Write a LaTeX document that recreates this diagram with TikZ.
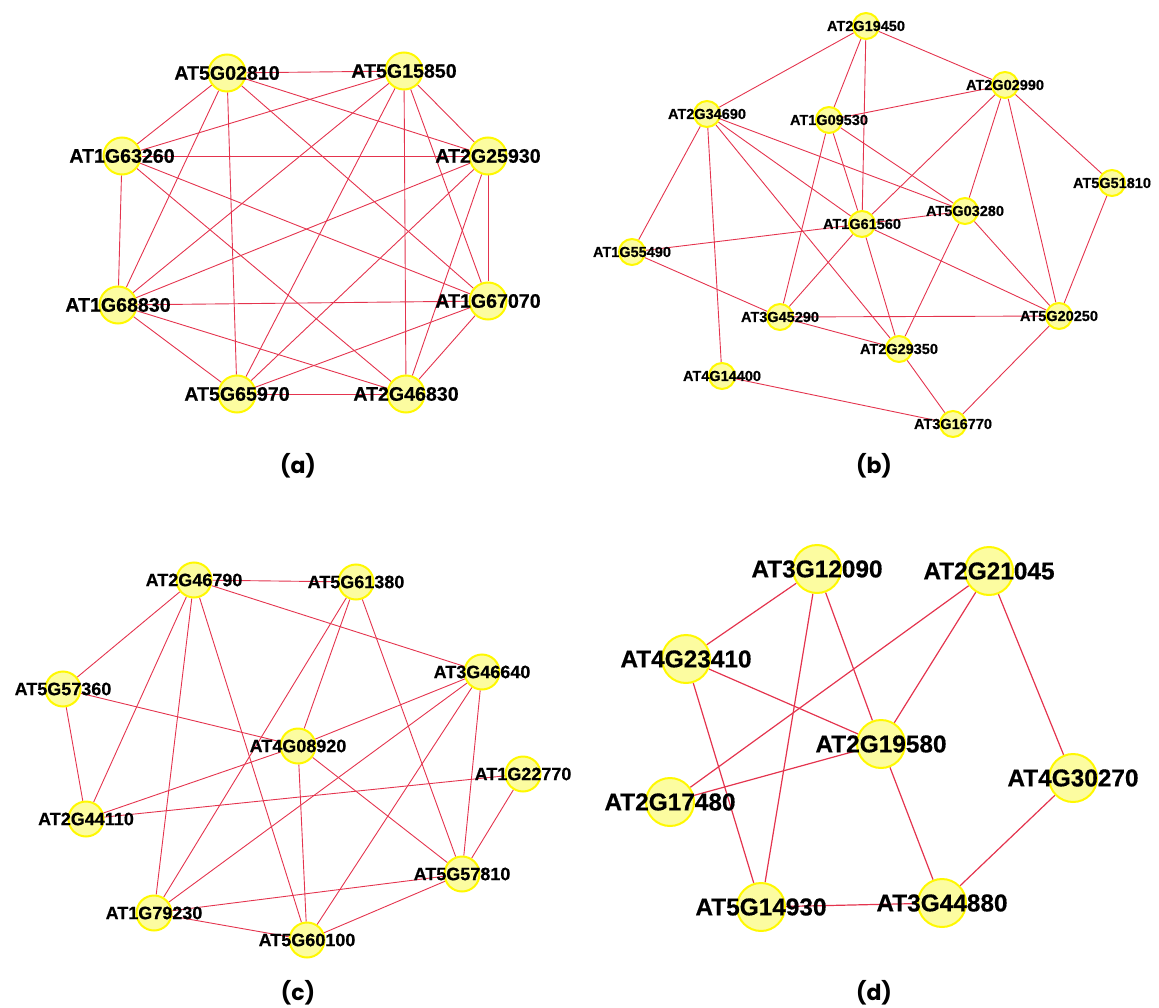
\documentclass[tikz,border=0pt]{standalone}
\usepackage{fontspec}
\usepackage{tikz}
\usetikzlibrary{backgrounds}
\newfontfamily\genefont{Liberation Sans}[FakeBold=0.5]
\newfontfamily\capfont{Poppins}
\definecolor{nodeyellow}{RGB}{252,252,160}
\definecolor{ringyellow}{RGB}{255,248,0}
\definecolor{edgered}{RGB}{228,52,78}
\tikzset{
    gene/.style={circle, draw=ringyellow, fill=nodeyellow, line width=2pt, inner sep=0pt, minimum size=#1},
    link/.style={draw=edgered, line width=0.9pt},
    genelabel/.style={font=\genefont\bfseries\fontsize{#1}{#1}\selectfont, inner sep=0pt, text=black},
    panellabel/.style={font=\capfont\bfseries\fontsize{22}{22}\selectfont}
}

\begin{document}
\begin{tikzpicture}[x=1pt, y=-1pt]
    \useasboundingbox (0,0) rectangle (1159,1008);

    % ---------- Top-left: (a) ----------
    \begin{scope}[every label/.style={genelabel=19.6}]
        \node[gene=37, label=center:AT5G02810] (a02810) at (227,73) {};
        \node[gene=37, label=center:AT5G15850] (a15850) at (404,71) {};
        \node[gene=37, label=center:AT1G63260] (a63260) at (122,156) {};
        \node[gene=37, label=center:AT2G25930] (a25930) at (488,156) {};
        \node[gene=37, label=center:AT1G68830] (a68830) at (118,305) {};
        \node[gene=37, label=center:AT1G67070] (a67070) at (488,301) {};
        \node[gene=37, label=center:AT5G65970] (a65970) at (237,394) {};
        \node[gene=37, label=center:AT2G46830] (a46830) at (406,394) {};

        \begin{scope}[on background layer]
            \foreach \v in {a15850, a63260, a68830, a65970, a25930, a67070}
                \draw[link] (a02810) -- (\v);
            \foreach \v in {a25930, a15850, a68830, a67070, a46830}
                \draw[link] (a63260) -- (\v);
            \foreach \v in {a68830, a65970, a46830, a67070, a25930}
                \draw[link] (a15850) -- (\v);
            \foreach \v in {a68830, a65970, a46830, a67070}
                \draw[link] (a25930) -- (\v);
            \foreach \v in {a67070, a65970, a46830}
                \draw[link] (a68830) -- (\v);
            \foreach \v in {a65970, a46830}
                \draw[link] (a67070) -- (\v);
            \draw[link] (a65970) -- (a46830);
        \end{scope}

        \node[panellabel] (capa) at (298,466) {(a)};
    \end{scope}

    % ---------- Top-right: (b) ----------
    \begin{scope}[every label/.style={genelabel=14.5}]
        \node[gene=26, label=center:AT2G19450] (b19450) at (866,26) {};
        \node[gene=26, label=center:AT2G02990] (b02990) at (1005,85) {};
        \node[gene=26, label=center:AT2G34690] (b34690) at (707,114) {};
        \node[gene=26, label=center:AT1G09530] (b09530) at (829,120) {};
        \node[gene=26, label=center:AT5G51810] (b51810) at (1112,183) {};
        \node[gene=26, label=center:AT5G03280] (b03280) at (965,211) {};
        \node[gene=26, label=center:AT1G61560] (b61560) at (862,224) {};
        \node[gene=26, label=center:AT1G55490] (b55490) at (632,252) {};
        \node[gene=26, label=center:AT3G45290] (b45290) at (780,317) {};
        \node[gene=26, label=center:AT5G20250] (b20250) at (1059,316) {};
        \node[gene=26, label=center:AT2G29350] (b29350) at (899,349) {};
        \node[gene=26, label=center:AT4G14400] (b14400) at (722,376) {};
        \node[gene=26, label=center:AT3G16770] (b16770) at (953,424) {};

        \begin{scope}[on background layer]
            \foreach \v in {b34690, b09530, b61560, b02990}
                \draw[link] (b19450) -- (\v);
            \foreach \v in {b09530, b61560, b03280, b20250, b51810}
                \draw[link] (b02990) -- (\v);
            \foreach \v in {b55490, b14400, b61560, b29350, b03280}
                \draw[link] (b34690) -- (\v);
            \foreach \v in {b45290, b61560, b03280}
                \draw[link] (b09530) -- (\v);
            \foreach \v in {b55490, b03280, b45290, b29350, b20250}
                \draw[link] (b61560) -- (\v);
            \foreach \v in {b29350, b20250}
                \draw[link] (b03280) -- (\v);
            \foreach \v in {b20250, b29350}
                \draw[link] (b45290) -- (\v);
            \foreach \v in {b16770, b51810}
                \draw[link] (b20250) -- (\v);
            \draw[link] (b55490) -- (b45290);
            \draw[link] (b29350) -- (b16770);
            \draw[link] (b14400) -- (b16770);
        \end{scope}

        \node[panellabel] (capb) at (874,466) {(b)};
    \end{scope}

    % ---------- Bottom-left: (c) ----------
    \begin{scope}[every label/.style={genelabel=18}]
        \node[gene=35, label=center:AT2G46790] (c46790) at (194,580) {};
        \node[gene=35, label=center:AT5G61380] (c61380) at (356,582) {};
        \node[gene=35, label=center:AT3G46640] (c46640) at (482,672) {};
        \node[gene=35, label=center:AT5G57360] (c57360) at (63,689) {};
        \node[gene=35, label=center:AT4G08920] (c08920) at (298,746) {};
        \node[gene=35, label=center:AT1G22770] (c22770) at (523,774) {};
        \node[gene=35, label=center:AT2G44110] (c44110) at (86,819) {};
        \node[gene=35, label=center:AT5G57810] (c57810) at (462,874) {};
        \node[gene=35, label=center:AT1G79230] (c79230) at (154,913) {};
        \node[gene=35, label=center:AT5G60100] (c60100) at (307,940) {};

        \begin{scope}[on background layer]
            \foreach \v in {c61380, c57360, c44110, c79230, c60100, c46640}
                \draw[link] (c46790) -- (\v);
            \foreach \v in {c79230, c08920, c57810}
                \draw[link] (c61380) -- (\v);
            \foreach \v in {c08920, c79230, c60100, c57810}
                \draw[link] (c46640) -- (\v);
            \foreach \v in {c08920, c44110}
                \draw[link] (c57360) -- (\v);
            \foreach \v in {c44110, c60100, c57810}
                \draw[link] (c08920) -- (\v);
            \foreach \v in {c44110, c57810}
                \draw[link] (c22770) -- (\v);
            \foreach \v in {c79230, c60100}
                \draw[link] (c57810) -- (\v);
            \draw[link] (c79230) -- (c60100);
        \end{scope}

        \node[panellabel] (capc) at (298,993) {(c)};
    \end{scope}

    % ---------- Bottom-right: (d) ----------
    \begin{scope}[every label/.style={genelabel=24.4}]
        \node[gene=48, label=center:AT3G12090] (d12090) at (817,569) {};
        \node[gene=48, label=center:AT2G21045] (d21045) at (989,571) {};
        \node[gene=48, label=center:AT4G23410] (d23410) at (686,659) {};
        \node[gene=48, label=center:AT2G19580] (d19580) at (881,744) {};
        \node[gene=48, label=center:AT4G30270] (d30270) at (1073,778) {};
        \node[gene=48, label=center:AT2G17480] (d17480) at (670,802) {};
        \node[gene=48, label=center:AT5G14930] (d14930) at (761,907) {};
        \node[gene=48, label=center:AT3G44880] (d44880) at (942,903) {};

        \begin{scope}[on background layer, link/.append style={line width=1.2pt}]
            \foreach \v in {d23410, d14930, d19580}
                \draw[link] (d12090) -- (\v);
            \foreach \v in {d17480, d19580, d30270}
                \draw[link] (d21045) -- (\v);
            \foreach \v in {d19580, d14930}
                \draw[link] (d23410) -- (\v);
            \foreach \v in {d17480, d44880}
                \draw[link] (d19580) -- (\v);
            \draw[link] (d30270) -- (d44880);
            \draw[link] (d14930) -- (d44880);
        \end{scope}

        \node[panellabel] (capd) at (874,993) {(d)};
    \end{scope}
\end{tikzpicture}
\end{document}
